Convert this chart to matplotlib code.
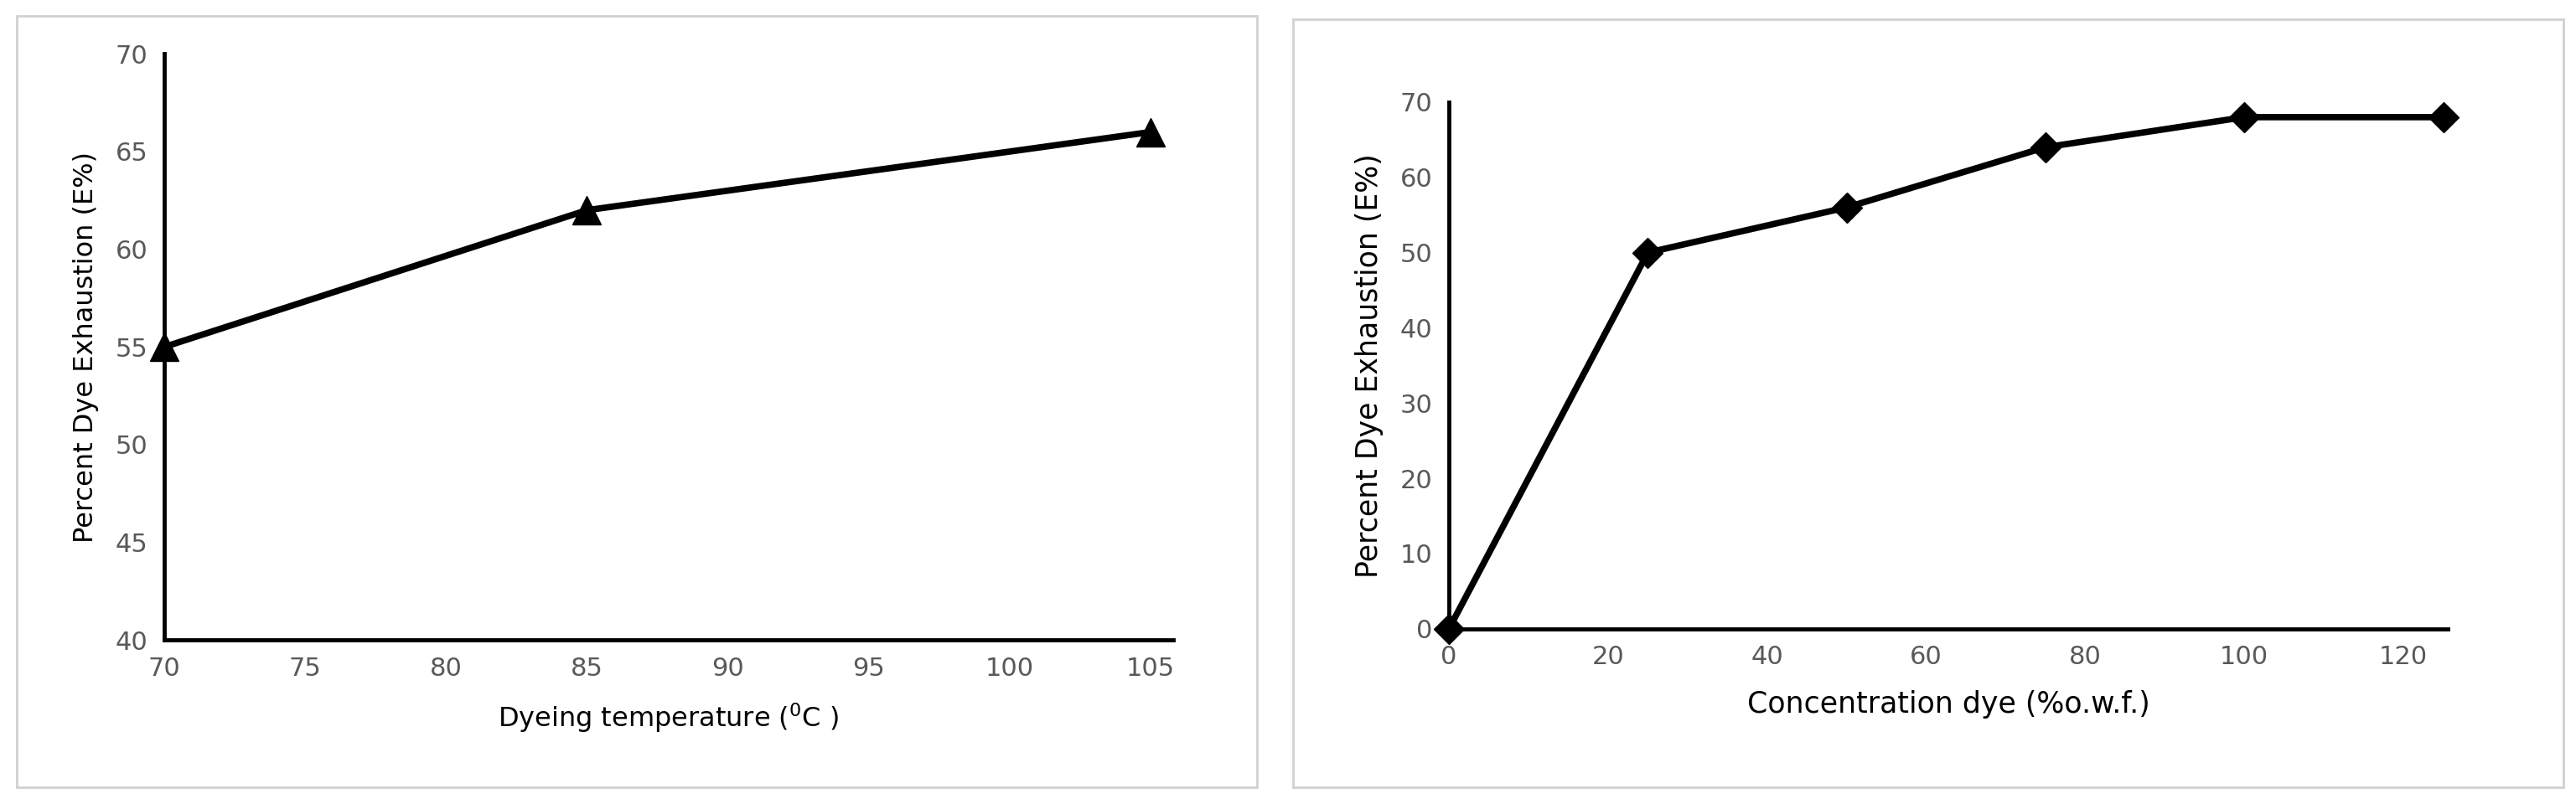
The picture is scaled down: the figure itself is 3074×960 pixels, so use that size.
import matplotlib
matplotlib.use("Agg")
import matplotlib.pyplot as plt
from matplotlib.patches import Rectangle

temp = [70, 85, 105]
temp_exh = [55, 62, 66]
conc = [0, 25, 50, 75, 100, 125]
conc_exh = [0, 50, 56, 64, 68, 68]

plt.rcParams['font.family'] = ['Liberation Sans Narrow', 'DejaVu Sans']
fig = plt.figure(figsize=(30.74, 9.6), dpi=100)

for x0, x1, y0, y1 in [(0.0064, 0.488, 0.0204, 0.98), (0.502, 0.995, 0.0204, 0.976)]:
    fig.patches.append(Rectangle((x0, y0), x1 - x0, y1 - y0, transform=fig.transFigure,
                                 fill=False, edgecolor='#d0d0d0', linewidth=2))

def style(ax):
    for s in ['top', 'right']:
        ax.spines[s].set_visible(False)
    for s in ['left', 'bottom']:
        ax.spines[s].set_linewidth(3.5)
    ax.tick_params(length=0, labelsize=22, labelcolor='#595959', pad=14)

ax1 = fig.add_axes([0.0638, 0.204, 0.3916, 0.729])
ax1.plot(temp, temp_exh, color='black', lw=5.5, marker='^', markersize=24, clip_on=False)
ax1.set_xlim(70, 105.8)
ax1.set_ylim(40, 70)
ax1.set_xticks([70, 75, 80, 85, 90, 95, 100, 105])
ax1.set_yticks([40, 45, 50, 55, 60, 65, 70])
style(ax1)
ax1.set_xlabel('Dyeing temperature ($^0$C )', fontsize=23, labelpad=18)
ax1.set_ylabel('Percent Dye Exhaustion (E%)', fontsize=23, labelpad=14)

ax2 = fig.add_axes([0.5625, 0.218, 0.3878, 0.655])
ax2.plot(conc, conc_exh, color='black', lw=5.5, marker='D', markersize=18, clip_on=False)
ax2.set_xlim(0, 125.6)
ax2.set_ylim(0, 70)
ax2.set_xticks([0, 20, 40, 60, 80, 100, 120])
ax2.set_yticks([0, 10, 20, 30, 40, 50, 60, 70])
style(ax2)
ax2.set_xlabel('Concentration dye (%o.w.f.)', fontsize=25, labelpad=18)
ax2.set_ylabel('Percent Dye Exhaustion (E%)', fontsize=25, labelpad=14)

fig.savefig('out.png', dpi=100)
